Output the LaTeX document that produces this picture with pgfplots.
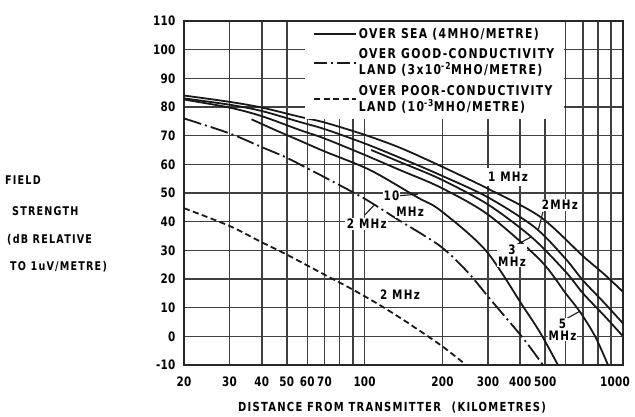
\documentclass[border=0pt]{standalone}
\usepackage{fontspec}
\setmainfont{DejaVu Sans}[FakeStretch=0.8, LetterSpace=10]
\newfontfamily\tickfont{DejaVu Sans}[FakeStretch=0.8, LetterSpace=2]
\usepackage{pgfplots}
\pgfplotsset{compat=1.18}

\tikzset{
  curve/.style={line width=1.8pt, color=black!90},
  landgood/.style={curve, dash pattern=on 18pt off 4pt on 2pt off 4pt},
  landpoor/.style={curve, dash pattern=on 6pt off 3.5pt},
  lbl/.style={fill=white, inner sep=1.5pt, font=\fontsize{13}{14}\selectfont\bfseries},
  lead/.style={line width=1.1pt, black!90},
}

\begin{document}
\begin{tikzpicture}
\begin{axis}[
    name=ax,
    scale only axis,
    width=439pt, height=344pt,
    xmode=log,
    xmin=20, xmax=1000,
    ymin=-10, ymax=110,
    xtick={20,30,40,50,60,70,100,200,300,400,500,1000},
    xticklabels={20,30,40,50,60,70,100,200,300,400,500,\makebox[0pt]{1000}\hspace*{16pt}},
    minor xtick={80,90,600,700,800,900},
    ytick={-10,0,10,20,30,40,50,60,70,80,90,100,110},
    yticklabels={-10,0,10,20,30,40,50,60,70,80,90,100,110},
    grid=both,
    major grid style={black!75, line width=1.5pt},
    minor grid style={black!75, line width=1.5pt},
    axis line style={black!85, line width=1.5pt},
    major tick length=0pt, minor tick length=0pt,
    tick label style={font=\fontsize{13}{14}\tickfont\bfseries},
    xticklabel style={yshift=-8pt},
    yticklabel style={xshift=-5pt},
    legend style={at={(0.2756,1)}, anchor=north west, yshift=-1pt,
        draw=none, fill=white, font=\fontsize{13.5}{16}\selectfont\bfseries,
        cells={anchor=west, align=left},
        inner xsep=8pt, inner ysep=4pt, row sep=5pt,
        /tikz/every even column/.append style={column sep=7pt}},
    legend image code/.code={\draw[#1] (0pt,0pt) -- (42pt,0pt);},
]

\addlegendimage{curve}
\addlegendentry{OVER SEA (4MHO/METRE)}
\addlegendimage{landgood, dash pattern=on 13pt off 4pt on 2pt off 4pt}
\addlegendentry{OVER GOOD-CONDUCTIVITY\\LAND (3x10\textsuperscript{-2}MHO/METRE)}
\addlegendimage{landpoor}
\addlegendentry{OVER POOR-CONDUCTIVITY\\LAND (10\textsuperscript{-3}MHO/METRE)}

% over sea, 1 MHz
\addplot[curve, smooth, forget plot] coordinates {
 (20,84) (30,81.8) (40,79.8) (56,76.6) (70,74.6) (100,70.3) (137,65.8)
 (196,59.5) (300,51.5) (478,41.7) (700,28) (850,21.5) (1000,15.5)};
% over sea, 2 MHz
\addplot[curve, smooth, forget plot] coordinates {
 (20,83) (30,80.8) (40,78.6) (56,74.8) (70,72.3) (100,67.3) (137,62.3)
 (196,56.3) (300,48.5) (456,38) (600,27) (700,19.5) (850,11.5) (1000,4.5)};
% over sea, 3 MHz
\addplot[curve, smooth, forget plot] coordinates {
 (106,65) (137,60.8) (196,54.9) (300,46) (444,34.5) (600,22.5) (700,15)
 (850,7) (1000,0)};
% over sea, 5 MHz
\addplot[curve, smooth, forget plot] coordinates {
 (20,82.6) (30,79.8) (40,76.8) (56,72) (70,69) (100,63.3) (137,58)
 (196,52) (300,42.5) (478,26.6) (600,15) (682,8.5) (780,0) (875,-10)};
% over sea, 10 MHz
\addplot[curve, smooth, forget plot] coordinates {
 (36.5,75.7) (45,72) (56,68.3) (70,64.5) (105,58) (160,48.5) (196,44)
 (294,30) (410,10.5) (480,1) (560,-10)};
% good-conductivity land, 2 MHz
\addplot[landgood, smooth, forget plot] coordinates {
 (20,76) (30,70.8) (40,66) (50,62.3) (60,58.6) (70,55.5) (100,48)
 (133,41) (196,31.5) (250,22.5) (306,13) (410,-0.6) (490,-10)};
% poor-conductivity land, 2 MHz
\addplot[landpoor, smooth, forget plot] coordinates {
 (20,44.7) (30,38.5) (40,32.8) (50,28.5) (70,21.5) (90,16.3) (114,11)
 (137,6.5) (154,3.5) (200,-3.5) (247,-10)};

% curve labels
\node[lbl, inner ysep=4pt] at (axis cs:359,55.6) {1 MHz};
\draw[lead] (axis cs:490,43.4) -- (axis cs:471,37.4);
\node[lbl] at (axis cs:570,45.8) {2MHz};
\draw[lead] (axis cs:379,31.5) -- (axis cs:444,34.8);
\node[lbl, align=center, inner sep=1pt] at (axis cs:372,28.2) {3\\[-2pt]MHz};
\draw[lead] (axis cs:600,6) -- (axis cs:682,8.8);
\node[lbl, align=center, inner sep=1pt] at (axis cs:583,2.4) {5\\[-2pt]MHz};
\draw[lead] (axis cs:134,49) -- (axis cs:161,49.6);
\node[lbl, inner sep=1pt] at (axis cs:127,49) {10};
\node[lbl, inner sep=1pt] at (axis cs:150,43.4) {MHz};
\draw[lead] (axis cs:100,42.3) -- (axis cs:109,45.8);
\node[lbl] at (axis cs:102,39.2) {2 MHz};
\node[lbl] at (axis cs:137,14.4) {2 MHz};
\end{axis}

\begin{scope}[every node/.style={anchor=west, inner sep=0pt, font=\fontsize{12}{13}\selectfont\bfseries}]
\node at ([xshift=-179pt, yshift=185pt]ax.south west) {FIELD};
\node at ([xshift=-172pt, yshift=154pt]ax.south west) {STRENGTH};
\node at ([xshift=-177pt, yshift=125pt]ax.south west) {(dB RELATIVE};
\node at ([xshift=-174pt, yshift=98pt]ax.south west) {TO 1uV/METRE)};
\end{scope}
\node[font=\fontsize{12.5}{14}\selectfont\bfseries, inner sep=0pt]
  at ([xshift=208pt, yshift=-43pt]ax.south west)
  {DISTANCE FROM TRANSMITTER\hspace{6pt} (KILOMETRES)};

\pgfresetboundingbox
\path[use as bounding box] ([xshift=-184pt, yshift=-52pt]ax.south west)
  rectangle ([xshift=12pt, yshift=21pt]ax.north east);
\end{tikzpicture}
\end{document}
